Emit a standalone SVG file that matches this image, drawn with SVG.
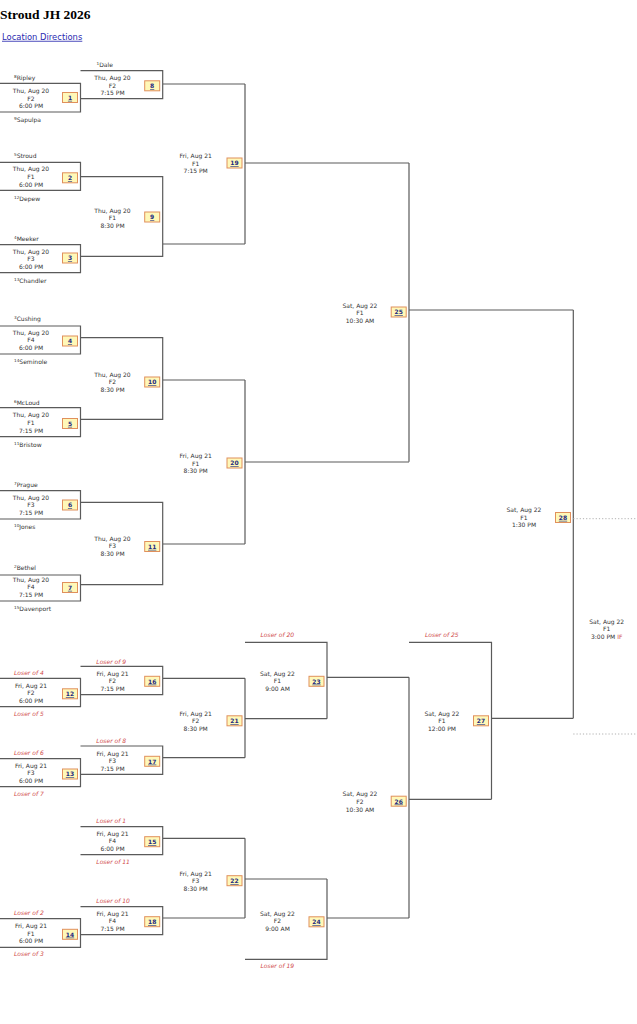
<svg xmlns="http://www.w3.org/2000/svg" width="637" height="1024" viewBox="0 0 637 1024">
<style>
.bg{fill:#ffffff}
.title{font-family:"Liberation Serif","Times New Roman",serif;font-weight:bold;font-size:13.5px;fill:#000}
.link{font-family:"DejaVu Sans",Verdana,sans-serif;font-size:8.4px;fill:#2a2ab0;text-decoration:underline}
.t{font-family:"DejaVu Sans",Verdana,sans-serif;font-size:6px;fill:#333;text-anchor:middle}
.lbl{font-family:"DejaVu Sans",Verdana,sans-serif;font-size:6px;fill:#333}
.sup{font-size:4.2px}
.los{font-family:"DejaVu Sans",Verdana,sans-serif;font-size:6px;font-style:italic;fill:#d04a4a}
.if{fill:#d04a4a}
.ln{fill:none;stroke:#5a5a5a;stroke-width:1.2}
.dot{fill:none;stroke:#b0b0b0;stroke-width:1;stroke-dasharray:1.2 2}
.bx{fill:#fff8b8;stroke:#e0905c;stroke-width:1}
.bn{font-family:"DejaVu Sans",Verdana,sans-serif;font-size:6px;font-weight:bold;fill:#1c2a80;text-anchor:middle;text-decoration:underline}
</style>
<defs>
<rect id="badge" width="15" height="10" class="bx"/>
</defs>
<rect class="bg" x="0" y="0" width="637" height="1024"/>
<text class="title" x="0" y="18.5">Stroud JH 2026</text>
<text class="link" x="2" y="39.8">Location Directions</text>

<g id="connectors">
<path class="ln" d="M0 83.3H80.5V112H0M80.5 70.7H162.7V98.7H80.5M162.7 84H245"/>
<path class="ln" d="M0 162.3H80.5V190.3H0M80.5 176.7H162.7V256.3H80.5M0 244.7H80.5V272.7H0M162.7 244H245"/>
<path class="ln" d="M245 84V244M245 163H409"/>
<path class="ln" d="M0 326H80.5V354H0M80.5 337.7H162.7V419.3H80.5M0 407.7H80.5V436.7H0M162.7 380H245"/>
<path class="ln" d="M0 490.7H80.5V519H0M80.5 502.3H162.7V584.7H80.5M0 575H80.5V601H0M162.7 544H245"/>
<path class="ln" d="M245 380V544M245 462H409"/>
<path class="ln" d="M409 163V461.7M409 310H573.3"/>
<path class="ln" d="M573.3 310V718.3"/>
<path class="dot" d="M573.3 518.7H637M573.3 734H637"/>
<path class="ln" d="M0 678.3H80.5V706.7H0M80.5 666.3H162.7V694.7H80.5M162.7 678.3H245"/>
<path class="ln" d="M0 758.7H80.5V786.7H0M80.5 746H162.7V774.3H80.5M162.7 757.7H245"/>
<path class="ln" d="M245 678.3V757.7M245 718.7H327"/>
<path class="ln" d="M245 642.3H327V718.7M327 677.3H409"/>
<path class="ln" d="M80.5 826.7H162.7V854.7H80.5M162.7 838.3H245"/>
<path class="ln" d="M0 918.7H80.5V947.3H0M80.5 906.7H162.7V934.7H80.5M162.7 918H245"/>
<path class="ln" d="M245 838.3V918M245 879H327"/>
<path class="ln" d="M245 959.3H327V879M327 918H409"/>
<path class="ln" d="M409 677.3V918M409 799.3H491.5"/>
<path class="ln" d="M409 642.3H491.5V799.3M491.5 718.3H573.3"/>
</g>

<g id="seeds">
<text class="lbl" x="14" y="79.9"><tspan class="sup" dy="-1.8">8</tspan><tspan dy="1.8">Ripley</tspan></text>
<text class="lbl" x="14" y="121.5"><tspan class="sup" dy="-1.8">9</tspan><tspan dy="1.8">Sapulpa</tspan></text>
<text class="lbl" x="96.5" y="66.5"><tspan class="sup" dy="-1.8">1</tspan><tspan dy="1.8">Dale</tspan></text>
<text class="lbl" x="14" y="158.2"><tspan class="sup" dy="-1.8">5</tspan><tspan dy="1.8">Stroud</tspan></text>
<text class="lbl" x="14" y="200.9"><tspan class="sup" dy="-1.8">12</tspan><tspan dy="1.8">Depew</tspan></text>
<text class="lbl" x="14" y="240.9"><tspan class="sup" dy="-1.8">4</tspan><tspan dy="1.8">Meeker</tspan></text>
<text class="lbl" x="14" y="282.9"><tspan class="sup" dy="-1.8">13</tspan><tspan dy="1.8">Chandler</tspan></text>
<text class="lbl" x="14" y="320.5"><tspan class="sup" dy="-1.8">3</tspan><tspan dy="1.8">Cushing</tspan></text>
<text class="lbl" x="14" y="364.2"><tspan class="sup" dy="-1.8">14</tspan><tspan dy="1.8">Seminole</tspan></text>
<text class="lbl" x="14" y="404.5"><tspan class="sup" dy="-1.8">6</tspan><tspan dy="1.8">McLoud</tspan></text>
<text class="lbl" x="14" y="447.2"><tspan class="sup" dy="-1.8">11</tspan><tspan dy="1.8">Bristow</tspan></text>
<text class="lbl" x="14" y="487.2"><tspan class="sup" dy="-1.8">7</tspan><tspan dy="1.8">Prague</tspan></text>
<text class="lbl" x="14" y="528.9"><tspan class="sup" dy="-1.8">10</tspan><tspan dy="1.8">Jones</tspan></text>
<text class="lbl" x="14" y="569.5"><tspan class="sup" dy="-1.8">2</tspan><tspan dy="1.8">Bethel</tspan></text>
<text class="lbl" x="14" y="611.2"><tspan class="sup" dy="-1.8">15</tspan><tspan dy="1.8">Davenport</tspan></text>
</g>

<g id="loser-labels">
<text class="los" x="14" y="674.9">Loser of 4</text>
<text class="los" x="14" y="715.9">Loser of 5</text>
<text class="los" x="96.3" y="663.5">Loser of 9</text>
<text class="los" x="14" y="754.9">Loser of 6</text>
<text class="los" x="14" y="796.2">Loser of 7</text>
<text class="los" x="96.3" y="742.9">Loser of 8</text>
<text class="los" x="260.5" y="637.2">Loser of 20</text>
<text class="los" x="96.3" y="823.2">Loser of 1</text>
<text class="los" x="96.3" y="863.9">Loser of 11</text>
<text class="los" x="96.3" y="902.9">Loser of 10</text>
<text class="los" x="14" y="914.9">Loser of 2</text>
<text class="los" x="14" y="956.2">Loser of 3</text>
<text class="los" x="260.5" y="968.2">Loser of 19</text>
<text class="los" x="425" y="636.9">Loser of 25</text>
</g>

<g id="g1"><text class="t" x="31" y="92.8">Thu, Aug 20</text><text class="t" x="31" y="100.5">F2</text><text class="t" x="31" y="108.2">6:00 PM</text><use href="#badge" x="62.5" y="92.5"/><text class="bn" x="70" y="99.8">1</text></g>
<g id="g2"><text class="t" x="31" y="171.2">Thu, Aug 20</text><text class="t" x="31" y="178.9">F1</text><text class="t" x="31" y="186.6">6:00 PM</text><use href="#badge" x="62.5" y="172.8"/><text class="bn" x="70" y="180.1">2</text></g>
<g id="g3"><text class="t" x="31" y="253.5">Thu, Aug 20</text><text class="t" x="31" y="261.2">F3</text><text class="t" x="31" y="268.9">6:00 PM</text><use href="#badge" x="62.5" y="253"/><text class="bn" x="70" y="260.3">3</text></g>
<g id="g4"><text class="t" x="31" y="334.5">Thu, Aug 20</text><text class="t" x="31" y="342.2">F4</text><text class="t" x="31" y="349.9">6:00 PM</text><use href="#badge" x="62.5" y="336"/><text class="bn" x="70" y="343.3">4</text></g>
<g id="g5"><text class="t" x="31" y="417.2">Thu, Aug 20</text><text class="t" x="31" y="424.9">F1</text><text class="t" x="31" y="432.6">7:15 PM</text><use href="#badge" x="62.5" y="418.5"/><text class="bn" x="70" y="425.8">5</text></g>
<g id="g6"><text class="t" x="31" y="499.5">Thu, Aug 20</text><text class="t" x="31" y="507.2">F3</text><text class="t" x="31" y="514.9">7:15 PM</text><use href="#badge" x="62.5" y="500"/><text class="bn" x="70" y="507.3">6</text></g>
<g id="g7"><text class="t" x="31" y="581.5">Thu, Aug 20</text><text class="t" x="31" y="589.2">F4</text><text class="t" x="31" y="596.9">7:15 PM</text><use href="#badge" x="62.5" y="582.5"/><text class="bn" x="70" y="589.8">7</text></g>

<g id="g8"><text class="t" x="112.5" y="79.8">Thu, Aug 20</text><text class="t" x="112.5" y="87.5">F2</text><text class="t" x="112.5" y="95.2">7:15 PM</text><use href="#badge" x="144.7" y="80.8"/><text class="bn" x="152.2" y="88.1">8</text></g>
<g id="g9"><text class="t" x="112.5" y="212.5">Thu, Aug 20</text><text class="t" x="112.5" y="220.2">F1</text><text class="t" x="112.5" y="227.9">8:30 PM</text><use href="#badge" x="144.7" y="212"/><text class="bn" x="152.2" y="219.3">9</text></g>
<g id="g10"><text class="t" x="112.5" y="376.5">Thu, Aug 20</text><text class="t" x="112.5" y="384.2">F2</text><text class="t" x="112.5" y="391.9">8:30 PM</text><use href="#badge" x="144.7" y="377"/><text class="bn" x="152.2" y="384.3">10</text></g>
<g id="g11"><text class="t" x="112.5" y="540.5">Thu, Aug 20</text><text class="t" x="112.5" y="548.2">F3</text><text class="t" x="112.5" y="555.9">8:30 PM</text><use href="#badge" x="144.7" y="541.5"/><text class="bn" x="152.2" y="548.8">11</text></g>

<g id="g19"><text class="t" x="195.7" y="157.8">Fri, Aug 21</text><text class="t" x="195.7" y="165.5">F1</text><text class="t" x="195.7" y="173.2">7:15 PM</text><use href="#badge" x="227" y="158"/><text class="bn" x="234.5" y="165.3">19</text></g>
<g id="g20"><text class="t" x="195.7" y="458">Fri, Aug 21</text><text class="t" x="195.7" y="465.7">F1</text><text class="t" x="195.7" y="473.4">8:30 PM</text><use href="#badge" x="227" y="458"/><text class="bn" x="234.5" y="465.3">20</text></g>
<g id="g25"><text class="t" x="360" y="307.5">Sat, Aug 22</text><text class="t" x="360" y="315.2">F1</text><text class="t" x="360" y="322.9">10:30 AM</text><use href="#badge" x="391.2" y="307"/><text class="bn" x="398.7" y="314.3">25</text></g>
<g id="g28"><text class="t" x="524" y="512">Sat, Aug 22</text><text class="t" x="524" y="519.7">F1</text><text class="t" x="524" y="527.4">1:30 PM</text><use href="#badge" x="555.5" y="512.5"/><text class="bn" x="563" y="519.8">28</text></g>
<g id="g-if"><text class="t" x="606.7" y="623.5">Sat, Aug 22</text><text class="t" x="606.7" y="631.2">F1</text><text class="t" x="606.7" y="638.9">3:00 PM <tspan class="if">IF</tspan></text></g>

<g id="g12"><text class="t" x="31" y="687.5">Fri, Aug 21</text><text class="t" x="31" y="695.2">F2</text><text class="t" x="31" y="702.9">6:00 PM</text><use href="#badge" x="62.5" y="688.8"/><text class="bn" x="70" y="696.1">12</text></g>
<g id="g13"><text class="t" x="31" y="767.5">Fri, Aug 21</text><text class="t" x="31" y="775.2">F3</text><text class="t" x="31" y="782.9">6:00 PM</text><use href="#badge" x="62.5" y="769"/><text class="bn" x="70" y="776.3">13</text></g>
<g id="g14"><text class="t" x="31" y="928">Fri, Aug 21</text><text class="t" x="31" y="935.7">F1</text><text class="t" x="31" y="943.4">6:00 PM</text><use href="#badge" x="62.5" y="929.3"/><text class="bn" x="70" y="936.6">14</text></g>
<g id="g16"><text class="t" x="112.5" y="675.5">Fri, Aug 21</text><text class="t" x="112.5" y="683.2">F2</text><text class="t" x="112.5" y="690.9">7:15 PM</text><use href="#badge" x="144.7" y="676.3"/><text class="bn" x="152.2" y="683.6">16</text></g>
<g id="g17"><text class="t" x="112.5" y="755.5">Fri, Aug 21</text><text class="t" x="112.5" y="763.2">F3</text><text class="t" x="112.5" y="770.9">7:15 PM</text><use href="#badge" x="144.7" y="756.3"/><text class="bn" x="152.2" y="763.6">17</text></g>
<g id="g15"><text class="t" x="112.5" y="835.5">Fri, Aug 21</text><text class="t" x="112.5" y="843.2">F4</text><text class="t" x="112.5" y="850.9">6:00 PM</text><use href="#badge" x="144.7" y="836.7"/><text class="bn" x="152.2" y="844">15</text></g>
<g id="g18"><text class="t" x="112.5" y="915.5">Fri, Aug 21</text><text class="t" x="112.5" y="923.2">F4</text><text class="t" x="112.5" y="930.9">7:15 PM</text><use href="#badge" x="144.7" y="916.7"/><text class="bn" x="152.2" y="924">18</text></g>
<g id="g21"><text class="t" x="195.7" y="715.5">Fri, Aug 21</text><text class="t" x="195.7" y="723.2">F2</text><text class="t" x="195.7" y="730.9">8:30 PM</text><use href="#badge" x="227" y="715.8"/><text class="bn" x="234.5" y="723.1">21</text></g>
<g id="g22"><text class="t" x="195.7" y="875.5">Fri, Aug 21</text><text class="t" x="195.7" y="883.2">F3</text><text class="t" x="195.7" y="890.9">8:30 PM</text><use href="#badge" x="227" y="875.7"/><text class="bn" x="234.5" y="883">22</text></g>
<g id="g23"><text class="t" x="277.5" y="675.5">Sat, Aug 22</text><text class="t" x="277.5" y="683.2">F1</text><text class="t" x="277.5" y="690.9">9:00 AM</text><use href="#badge" x="309" y="676.3"/><text class="bn" x="316.5" y="683.6">23</text></g>
<g id="g24"><text class="t" x="277.5" y="915.5">Sat, Aug 22</text><text class="t" x="277.5" y="923.2">F2</text><text class="t" x="277.5" y="930.9">9:00 AM</text><use href="#badge" x="309" y="916.8"/><text class="bn" x="316.5" y="924.1">24</text></g>
<g id="g26"><text class="t" x="360" y="796.2">Sat, Aug 22</text><text class="t" x="360" y="803.9">F2</text><text class="t" x="360" y="811.6">10:30 AM</text><use href="#badge" x="391.2" y="796.2"/><text class="bn" x="398.7" y="803.5">26</text></g>
<g id="g27"><text class="t" x="442" y="715.5">Sat, Aug 22</text><text class="t" x="442" y="723.2">F1</text><text class="t" x="442" y="730.9">12:00 PM</text><use href="#badge" x="473.5" y="715.8"/><text class="bn" x="481" y="723.1">27</text></g>
</svg>
